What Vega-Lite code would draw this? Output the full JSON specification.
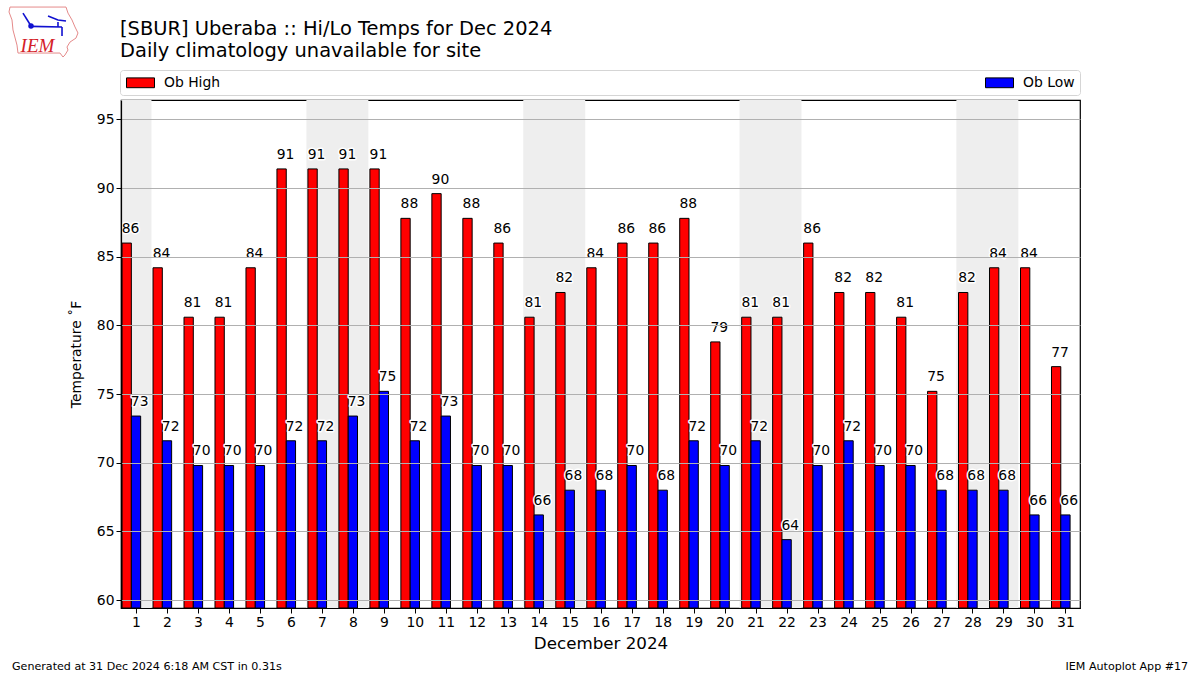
{
"$schema":"https://vega.github.io/schema/vega-lite/v6.json",
"autosize":{"type":"none"},
"width":959,"height":508,
"padding":{"left":121,"top":100,"right":120,"bottom":67},
"background":"white",
"title":{"text":"[SBUR] Uberaba :: Hi/Lo Temps for Dec 2024","subtitle":"Daily climatology unavailable for site","anchor":"start","frame":"group","font":"DejaVu Sans","fontSize":19.45,"fontWeight":"normal","color":"black","subtitleFont":"DejaVu Sans","subtitleFontSize":19.45,"subtitleColor":"black","subtitlePadding":2,"offset":-56,"dx":-1},
"resolve":{"axis":{"x":"independent","y":"independent"}},
"config":{"font":"DejaVu Sans","view":{"stroke":"black","strokeWidth":1.2,"fill":"white"},
"axis":{"labelFont":"DejaVu Sans","titleFont":"DejaVu Sans","labelColor":"black","titleColor":"black","tickColor":"black","domainColor":"black","labelFontSize":13.9,"tickSize":5,"titleFontWeight":"normal"}},
"datasets":{
"temps":[
{"day":1,"high":86,"low":73.4},{"day":2,"high":84.2,"low":71.6},{"day":3,"high":80.6,"low":69.8},{"day":4,"high":80.6,"low":69.8},{"day":5,"high":84.2,"low":69.8},{"day":6,"high":91.4,"low":71.6},{"day":7,"high":91.4,"low":71.6},{"day":8,"high":91.4,"low":73.4},{"day":9,"high":91.4,"low":75.2},{"day":10,"high":87.8,"low":71.6},{"day":11,"high":89.6,"low":73.4},{"day":12,"high":87.8,"low":69.8},{"day":13,"high":86,"low":69.8},{"day":14,"high":80.6,"low":66.2},{"day":15,"high":82.4,"low":68},{"day":16,"high":84.2,"low":68},{"day":17,"high":86,"low":69.8},{"day":18,"high":86,"low":68},{"day":19,"high":87.8,"low":71.6},{"day":20,"high":78.8,"low":69.8},{"day":21,"high":80.6,"low":71.6},{"day":22,"high":80.6,"low":64.4},{"day":23,"high":86,"low":69.8},{"day":24,"high":82.4,"low":71.6},{"day":25,"high":82.4,"low":69.8},{"day":26,"high":80.6,"low":69.8},{"day":27,"high":75.2,"low":68},{"day":28,"high":82.4,"low":68},{"day":29,"high":84.2,"low":68},{"day":30,"high":84.2,"low":66.2},{"day":31,"high":77,"low":66.2}],
"weekends":[{"start":0.516,"end":1.5},{"start":6.5,"end":8.5},{"start":13.5,"end":15.5},{"start":20.48,"end":22.48},{"start":27.48,"end":29.48}],
"logoLines":[
{"g":"iowa","o":0,"x":-3.067,"y":103.19},{"g":"iowa","o":1,"x":-1.259,"y":103.19},{"g":"iowa","o":2,"x":-1.195,"y":102.75},{"g":"iowa","o":3,"x":-1.066,"y":102.25},{"g":"iowa","o":4,"x":-0.969,"y":101.74},{"g":"iowa","o":5,"x":-0.872,"y":101.30},{"g":"iowa","o":6,"x":-0.937,"y":100.93},{"g":"iowa","o":7,"x":-1.130,"y":100.64},{"g":"iowa","o":8,"x":-1.227,"y":100.28},{"g":"iowa","o":9,"x":-1.195,"y":100.06},{"g":"iowa","o":10,"x":-1.292,"y":99.70},{"g":"iowa","o":11,"x":-1.356,"y":99.55},{"g":"iowa","o":12,"x":-1.453,"y":99.84},{"g":"iowa","o":13,"x":-2.680,"y":99.84},{"g":"iowa","o":14,"x":-2.809,"y":99.84},{"g":"iowa","o":15,"x":-2.841,"y":100.42},{"g":"iowa","o":16,"x":-2.970,"y":101.52},{"g":"iowa","o":17,"x":-3.002,"y":102.25},{"g":"iowa","o":18,"x":-3.099,"y":102.83},{"g":"iowa","o":19,"x":-3.067,"y":103.19}],
"logoBlue":[
{"g":"a","o":0,"x":-2.389,"y":101.78},{"g":"a","o":1,"x":-1.388,"y":101.74},
{"g":"b","o":0,"x":-2.389,"y":101.81},{"g":"b","o":1,"x":-2.647,"y":102.75},
{"g":"c","o":0,"x":-1.840,"y":102.53},{"g":"c","o":1,"x":-1.518,"y":102.25},{"g":"c","o":2,"x":-1.259,"y":102.17},
{"g":"d","o":0,"x":-1.518,"y":102.10},{"g":"d","o":1,"x":-1.518,"y":101.74},
{"g":"e","o":0,"x":-1.388,"y":101.74},{"g":"e","o":1,"x":-1.388,"y":101.08}],
"logoDot":[{"x":-2.389,"y":101.81}],
"logoText":[{"x":-2.18,"y":100.35,"t":"IEM"}],
"footL":[{"x":-3.002,"y":59.42,"t":"Generated at 31 Dec 2024 6:18 AM CST in 0.31s"}],
"footR":[{"x":34.96,"y":59.42,"t":"IEM Autoplot App #17"}]
},
"layer":[
{"data":{"name":"weekends"},"mark":{"type":"rect","fill":"#eeeeee"},
 "encoding":{"x":{"field":"start","type":"quantitative","scale":{"domain":[0.516,31.47],"nice":false,"zero":false,"padding":0},
   "axis":{"values":[1,2,3,4,5,6,7,8,9,10,11,12,13,14,15,16,17,18,19,20,21,22,23,24,25,26,27,28,29,30,31],"format":"d","title":"December 2024","titleFontSize":16.7,"titlePadding":7,"grid":false,"labelFlush":false,"labelOverlap":false,"domainWidth":1.2,"zindex":1}},
   "x2":{"field":"end"}}},
{"data":{"name":"temps"},"transform":[{"fold":["high","low"],"as":["key","temp"]},{"calculate":"datum.key==='high'?'Ob High':'Ob Low'","as":"series"},{"filter":"datum.key==='high'"}],
 "mark":{"type":"bar","size":9.3,"xOffset":-9.3,"stroke":"black","strokeWidth":1},
 "encoding":{"x":{"field":"day","type":"quantitative","axis":null,"scale":{"domain":[0.516,31.47],"nice":false,"zero":false,"padding":0}},
  "y":{"field":"temp","type":"quantitative","stack":null,"scale":{"domain":[59.42,96.42],"nice":false,"zero":false},
    "axis":{"values":[60,65,70,75,80,85,90,95],"title":"Temperature ˚F","titleFontSize":13.9,"titlePadding":13,"grid":true,"gridColor":"#b0b0b0","gridWidth":1,"domainWidth":1.2,"zindex":1}},
  "y2":{"datum":59.42},
  "fill":{"field":"series","type":"nominal","scale":{"domain":["Ob High","Ob Low"],"range":["#ff0000","#0000ff"]},
    "legend":{"title":null,"orient":"none","legendX":-1,"legendY":-30,"direction":"horizontal","columns":2,"columnPadding":762,"padding":5,"symbolType":"M-2,-0.7H2V0.7H-2Z","symbolSize":196,"symbolStrokeColor":"black","symbolStrokeWidth":1,"symbolOffset":8,"labelOffset":16,"labelFontSize":13.9,"labelFont":"DejaVu Sans","labelColor":"black","strokeColor":"#d5d5d5","fillColor":"white","cornerRadius":3,"symbolOpacity":1}}}},
{"data":{"name":"temps"},"transform":[{"fold":["high","low"],"as":["key","temp"]},{"calculate":"datum.key==='high'?'Ob High':'Ob Low'","as":"series"},{"filter":"datum.key==='low'"}],
 "mark":{"type":"bar","size":9.3,"stroke":"black","strokeWidth":1},
 "encoding":{"x":{"field":"day","type":"quantitative","axis":null},
  "y":{"field":"temp","type":"quantitative","stack":null,"axis":null},
  "y2":{"datum":59.42},
  "fill":{"field":"series","type":"nominal"}}},
{"data":{"name":"temps"},"mark":{"type":"text","xOffset":-5.4,"yOffset":-10,"baseline":"alphabetic","fontSize":13.9,"stroke":"white","strokeWidth":3,"strokeJoin":"round"},
 "encoding":{"x":{"field":"day","type":"quantitative","axis":null},"y":{"field":"high","type":"quantitative","axis":null},"text":{"field":"high","type":"quantitative","format":".0f"}}},
{"data":{"name":"temps"},"mark":{"type":"text","xOffset":3.7,"yOffset":-10,"baseline":"alphabetic","fontSize":13.9,"stroke":"white","strokeWidth":3,"strokeJoin":"round"},
 "encoding":{"x":{"field":"day","type":"quantitative","axis":null},"y":{"field":"low","type":"quantitative","axis":null},"text":{"field":"low","type":"quantitative","format":".0f"}}},
{"data":{"name":"temps"},"mark":{"type":"text","xOffset":-5.4,"yOffset":-10,"baseline":"alphabetic","fontSize":13.9,"fill":"black"},
 "encoding":{"x":{"field":"day","type":"quantitative","axis":null},"y":{"field":"high","type":"quantitative","axis":null},"text":{"field":"high","type":"quantitative","format":".0f"}}},
{"data":{"name":"temps"},"mark":{"type":"text","xOffset":3.7,"yOffset":-10,"baseline":"alphabetic","fontSize":13.9,"fill":"black"},
 "encoding":{"x":{"field":"day","type":"quantitative","axis":null},"y":{"field":"low","type":"quantitative","axis":null},"text":{"field":"low","type":"quantitative","format":".0f"}}},
{"data":{"name":"logoLines"},"mark":{"type":"line","stroke":"#e58a8a","strokeWidth":1,"clip":false},
 "encoding":{"x":{"field":"x","type":"quantitative","axis":null},"y":{"field":"y","type":"quantitative","axis":null},"order":{"field":"o"},"detail":{"field":"g"}}},
{"data":{"name":"logoBlue"},"mark":{"type":"line","stroke":"#1010d0","strokeWidth":1.6,"clip":false},
 "encoding":{"x":{"field":"x","type":"quantitative","axis":null},"y":{"field":"y","type":"quantitative","axis":null},"order":{"field":"o"},"detail":{"field":"g"}}},
{"data":{"name":"logoDot"},"mark":{"type":"point","filled":true,"fill":"#1010d0","size":30,"opacity":1},
 "encoding":{"x":{"field":"x","type":"quantitative","axis":null},"y":{"field":"y","type":"quantitative","axis":null}}},
{"data":{"name":"logoText"},"mark":{"type":"text","font":"Liberation Serif","fontStyle":"italic","fontSize":19,"fill":"#d42027","align":"center","baseline":"middle"},
 "encoding":{"x":{"field":"x","type":"quantitative","axis":null},"y":{"field":"y","type":"quantitative","axis":null},"text":{"field":"t"}}},
{"data":{"name":"footL"},"mark":{"type":"text","fontSize":11.1,"align":"left","baseline":"alphabetic","yOffset":62,"fill":"black"},
 "encoding":{"x":{"field":"x","type":"quantitative","axis":null},"y":{"field":"y","type":"quantitative","axis":null},"text":{"field":"t"}}},
{"data":{"name":"footR"},"mark":{"type":"text","fontSize":11.1,"align":"right","baseline":"alphabetic","yOffset":62,"fill":"black"},
 "encoding":{"x":{"field":"x","type":"quantitative","axis":null},"y":{"field":"y","type":"quantitative","axis":null},"text":{"field":"t"}}}
]
}
